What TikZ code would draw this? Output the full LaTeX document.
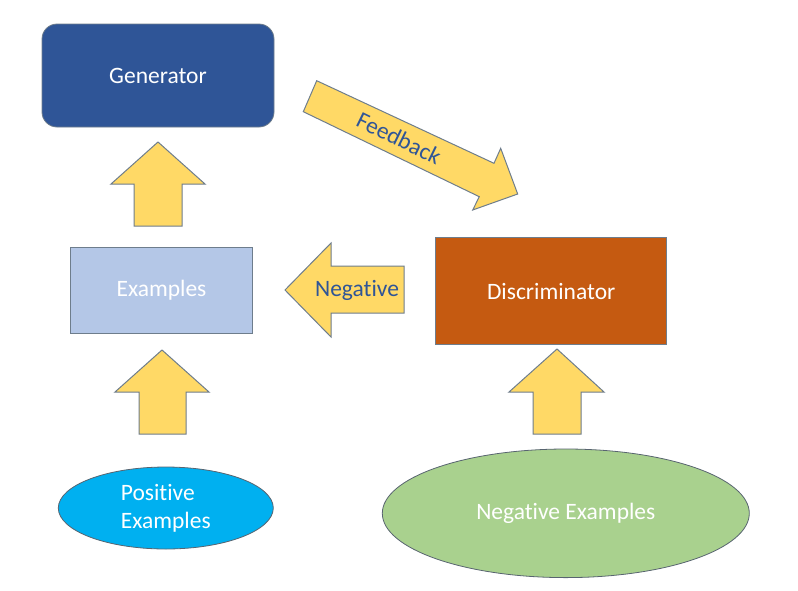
\documentclass[tikz,border=0pt]{standalone}
\usepackage{fontspec}
\setmainfont{Carlito}[RawFeature={-liga}]
\usetikzlibrary{shapes.geometric}
\definecolor{genblue}{RGB}{47,85,151}
\definecolor{exblue}{RGB}{180,199,231}
\definecolor{discor}{RGB}{197,90,17}
\definecolor{posblue}{RGB}{0,176,240}
\definecolor{neggreen}{RGB}{169,209,142}
\definecolor{arrowyel}{RGB}{255,217,102}
\definecolor{edgegray}{RGB}{110,125,140}
\definecolor{txtblue}{RGB}{47,85,151}
\tikzset{
  boxnode/.style={draw=edgegray, line width=0.8pt, text=white, font=\fontsize{23.5}{28}\selectfont},
  ellnode/.style={ellipse, draw=edgegray!80!black, line width=0.8pt, text=white, font=\fontsize{23.5}{28}\selectfont, inner sep=0pt},
  blockarrow/.style={fill=arrowyel, draw=edgegray, line width=1pt, line join=miter},
  arrowlabel/.style={text=txtblue, font=\fontsize{23.5}{28}\selectfont, inner sep=0pt}
}
\begin{document}
\begin{tikzpicture}[x=1pt,y=-1pt]
\useasboundingbox (0,0) rectangle (798,590);
% nodes
\node[boxnode, fill=genblue, rounded corners=15pt, minimum width=232pt, minimum height=103pt] (gen) at (158,75.5) {Generator};
\node[boxnode, fill=exblue, minimum width=182pt, minimum height=86pt] (ex) at (161.5,290.3) {Examples};
\node[boxnode, fill=discor, minimum width=231pt, minimum height=107pt] (disc) at (551.2,291) {Discriminator};
\node[ellnode, fill=posblue, minimum width=215pt, minimum height=82pt, align=left] (pos) at (165.8,508) {Positive\\Examples};
\node[ellnode, fill=neggreen, minimum width=367pt, minimum height=128.6pt] (neg) at (565.8,513.3) {Negative Examples};
% block arrows
\draw[blockarrow] (158,142) -- (205,184) -- (182,184) -- (182,226) -- (134,226) -- (134,184) -- (111,184) -- cycle;
\draw[blockarrow] (162,350) -- (209,392) -- (186,392) -- (186,434) -- (139,434) -- (139,392) -- (115,392) -- cycle;
\draw[blockarrow] (557,349) -- (604,392) -- (581,392) -- (581,434) -- (533,434) -- (533,392) -- (509,392) -- cycle;
\draw[blockarrow] (285,290) -- (331,243) -- (331,266) -- (404,266) -- (404,313) -- (331,313) -- (331,337) -- cycle;
\draw[blockarrow] (316.7,80.7) -- (494,163.3) -- (500.7,148.3) -- (517.7,194) -- (472.7,210) -- (479.3,196.7) -- (303.3,111.7) -- cycle;
% labels
\node[arrowlabel] (neglbl) at (357,290) {Negative};
\node[arrowlabel, rotate=-26] (fblbl) at (399,138) {Feedback};
\end{tikzpicture}
\end{document}
